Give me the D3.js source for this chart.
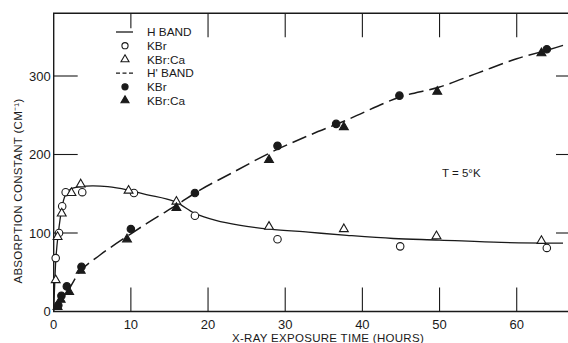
<!DOCTYPE html>
<html>
<head>
<meta charset="utf-8">
<script src="https://cdn.jsdelivr.net/npm/d3@7"></script>
<style>
  html, body { margin: 0; padding: 0; background: #fff; }
  svg { display: block; }
  text { font-family: "Liberation Sans", Arial, sans-serif; fill: #1a1a1a; }
</style>
</head>
<body>
<svg id="chart" width="568" height="343"></svg>
<script>
// Axis ticks
const xTicks = [0, 10, 20, 30, 40, 50, 60];
const yTicks = [0, 100, 200, 300];

// H band: measured points (hours, cm^-1)
const hKBrX = [0.26, 0.69, 1.1, 1.55, 3.7, 10.4, 18.3, 29.0, 44.9, 63.9];
const hKBrY = [68, 100, 134, 152, 152, 151, 122, 92, 83, 81];
const hKBrCaX = [0.26, 0.5, 1.04, 2.3, 3.5, 9.7, 15.9, 27.9, 37.6, 49.6, 63.2];
const hKBrCaY = [40, 95, 125, 151, 162, 154, 140, 108, 105, 96, 90];

// H' band: measured points
const hpKBrX = [0.6, 1.0, 1.7, 3.6, 10.0, 18.3, 29.0, 36.6, 44.8, 63.9];
const hpKBrY = [8, 20, 32, 57, 105, 151, 211, 239, 275, 334];
const hpKBrCaX = [0.5, 0.9, 2.0, 3.5, 9.5, 15.9, 27.9, 37.6, 49.7, 63.2];
const hpKBrCaY = [6, 15, 25, 52, 92, 132, 193, 235, 280, 329];

// Drawn-through curves
const hCurveX = [0, 0.15, 0.3, 0.6, 1.0, 1.5, 2.2, 3.5, 5, 7, 9.5, 12, 15.7, 18.3, 21, 24, 28, 33, 38, 44, 50, 58, 66];
const hCurveY = [0, 40, 70, 100, 128, 148, 156, 159, 160, 159, 155, 149, 140, 125, 116, 110, 105, 101, 97, 93, 91, 88, 87];
const hpCurveX = [0.3, 1, 2, 3.5, 6, 10, 13, 16, 19, 23, 28, 33, 38, 44.8, 50, 55, 60, 64, 66];
const hpCurveY = [3, 16, 29, 52, 72, 99, 118, 136, 155, 176, 202, 224, 244, 273, 286, 304, 322, 333, 339];

const svg = d3.select("#chart");
const ink = "#1a1a1a";

const x = d3.scaleLinear().domain([0, 68.2]).range([53.7, 580]);
const y = d3.scaleLinear().domain([0, 380]).range([311.5, 13.2]);

const X0 = x(0), X1 = x(68.2), Y0 = y(0), Y1 = y(380);

// Frame
const frame = svg.append("g").attr("stroke", ink).attr("stroke-width", 1.4).attr("fill", "none");
frame.append("path").attr("d", `M${X1},${Y1}H${X0}V${Y0}H${X1}Z`);

// Inward ticks on all four sides
const tickLen = 24;
const ticks = svg.append("g").attr("stroke", ink).attr("stroke-width", 1.1);
xTicks.filter(d => d > 0).forEach(d => {
  ticks.append("line").attr("x1", x(d)).attr("x2", x(d)).attr("y1", Y0).attr("y2", Y0 - tickLen);
  const len = d === 10 ? 15 : tickLen;
  ticks.append("line").attr("x1", x(d)).attr("x2", x(d)).attr("y1", Y1).attr("y2", Y1 + len);
});
yTicks.filter(d => d > 0).forEach(d => {
  ticks.append("line").attr("x1", X0).attr("x2", X0 + tickLen).attr("y1", y(d)).attr("y2", y(d));
  ticks.append("line").attr("x1", X1).attr("x2", X1 - tickLen).attr("y1", y(d)).attr("y2", y(d));
});

// Tick labels
svg.append("g").selectAll("text").data(xTicks).join("text")
  .attr("x", d => x(d)).attr("y", Y0 + 17)
  .attr("text-anchor", "middle").attr("font-size", 13).text(d => d);
svg.append("g").selectAll("text").data(yTicks).join("text")
  .attr("x", X0 - 3).attr("y", d => y(d) + 4.6)
  .attr("text-anchor", "end").attr("font-size", 13).text(d => d);

// Axis titles
svg.append("text").attr("x", 328).attr("y", 341.5)
  .attr("text-anchor", "middle").attr("font-size", 11.5).attr("letter-spacing", 0.3)
  .text("X-RAY EXPOSURE TIME (HOURS)");
svg.append("text").attr("transform", "translate(22,191) rotate(-90)")
  .attr("text-anchor", "middle").attr("font-size", 11.5).attr("letter-spacing", 0.3)
  .text("ABSORPTION CONSTANT (CM⁻¹)");

// Curves
const line = d3.line().x(d => x(d[0])).y(d => y(d[1])).curve(d3.curveCatmullRom.alpha(0.5));
svg.append("path").datum(d3.zip(hCurveX, hCurveY)).attr("d", line)
  .attr("fill", "none").attr("stroke", ink).attr("stroke-width", 1.3);
svg.append("path").datum(d3.zip(hpCurveX, hpCurveY)).attr("d", line)
  .attr("fill", "none").attr("stroke", ink).attr("stroke-width", 1.5)
  .attr("stroke-dasharray", "15,6");

// Markers
const circle = d3.symbol().type(d3.symbolCircle).size(44);
const tri = d3.symbol().type(d3.symbolTriangle).size(34);
function marks(xs, ys, sym, filled) {
  svg.append("g").selectAll("path").data(d3.zip(xs, ys)).join("path")
    .attr("transform", d => `translate(${x(d[0])},${y(d[1])})`)
    .attr("d", sym)
    .attr("fill", filled ? ink : "#fff")
    .attr("stroke", ink).attr("stroke-width", 1.1);
}
marks(hKBrX, hKBrY, circle, false);
marks(hKBrCaX, hKBrCaY, tri, false);
marks(hpKBrX, hpKBrY, circle, true);
marks(hpKBrCaX, hpKBrCaY, tri, true);

// Legend
const legend = [
  { label: "H BAND", kind: "solid" },
  { label: "KBr", kind: "circle", filled: false },
  { label: "KBr:Ca", kind: "tri", filled: false },
  { label: "H' BAND", kind: "dash" },
  { label: "KBr", kind: "circle", filled: true },
  { label: "KBr:Ca", kind: "tri", filled: true }
];
const lg = svg.append("g");
legend.forEach((e, i) => {
  const cy = 32 + i * 13.7;
  if (e.kind === "solid") {
    lg.append("line").attr("x1", 116).attr("x2", 133).attr("y1", cy).attr("y2", cy)
      .attr("stroke", ink).attr("stroke-width", 1.3);
  } else if (e.kind === "dash") {
    lg.append("line").attr("x1", 116).attr("x2", 133).attr("y1", cy).attr("y2", cy)
      .attr("stroke", ink).attr("stroke-width", 1.3).attr("stroke-dasharray", "4,2.5");
  } else {
    lg.append("path").attr("transform", `translate(125,${cy})`)
      .attr("d", e.kind === "circle" ? d3.symbol().type(d3.symbolCircle).size(30)() : d3.symbol().type(d3.symbolTriangle).size(28)())
      .attr("fill", e.filled ? ink : "#fff").attr("stroke", ink).attr("stroke-width", 1.1);
  }
  lg.append("text").attr("x", 147).attr("y", cy + 4.3).attr("font-size", 11.8).text(e.label);
});

// Temperature note
svg.append("text").attr("x", 442).attr("y", 177).attr("font-size", 11.5).text("T = 5°K");
</script>
</body>
</html>
